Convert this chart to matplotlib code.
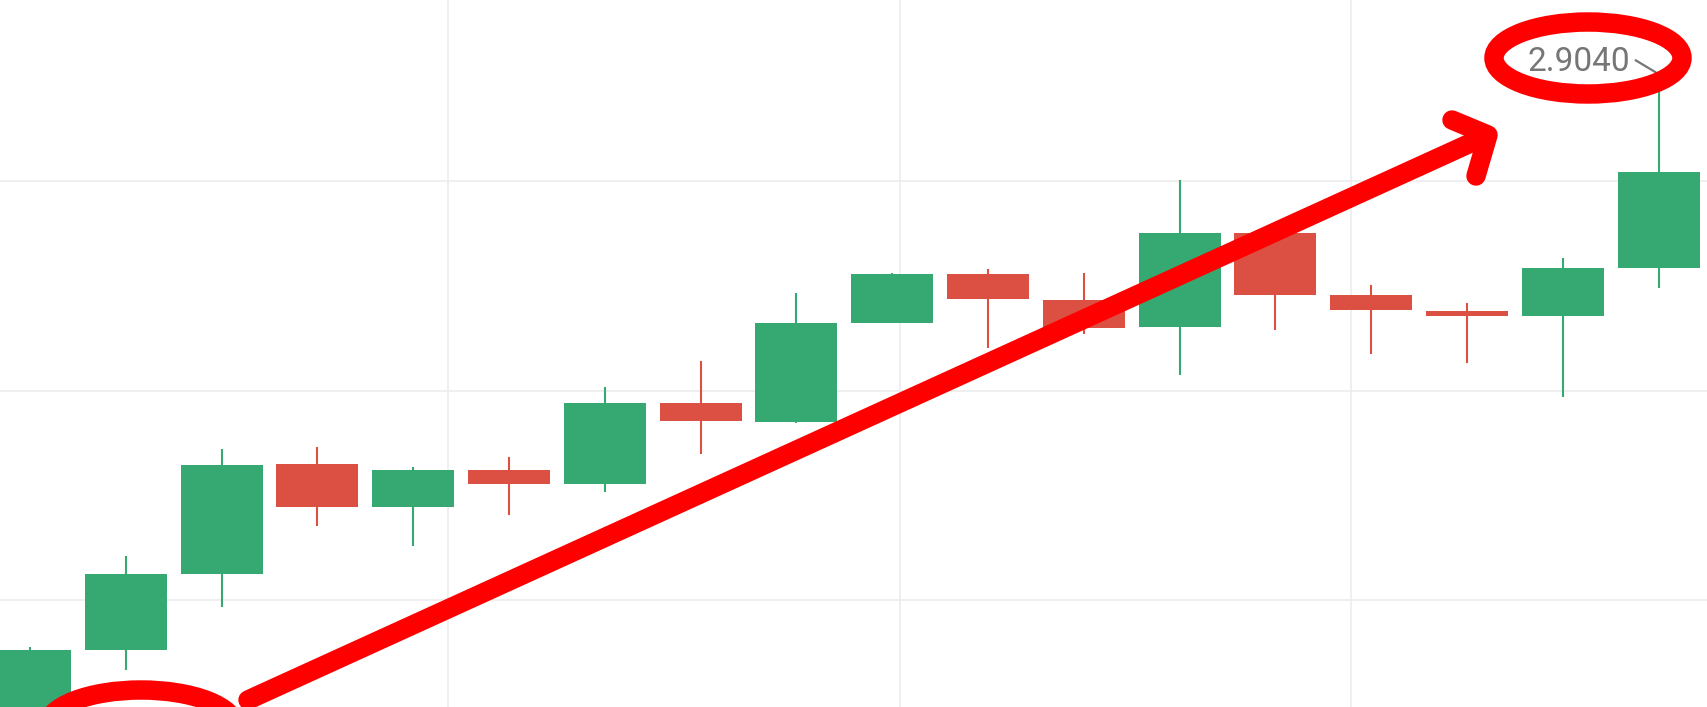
import matplotlib
matplotlib.use("Agg")
import matplotlib.pyplot as plt
from matplotlib.patches import Ellipse
from matplotlib.lines import Line2D
from matplotlib.transforms import offset_copy

# ---- data (OHLC) ----
opens  = [2.87865, 2.88209, 2.88498, 2.88918, 2.88756, 2.88896, 2.88842, 2.89153, 2.89080,
          2.89458, 2.89646, 2.89546, 2.89441, 2.89801, 2.89565, 2.89504, 2.89486, 2.89669]
highs  = [2.88221, 2.88568, 2.88977, 2.88985, 2.88907, 2.88947, 2.89212, 2.89314, 2.89572,
          2.89650, 2.89663, 2.89648, 2.90004, 2.89801, 2.89603, 2.89533, 2.89705, 2.90400]
lows   = [2.87751, 2.88133, 2.88374, 2.88684, 2.88606, 2.88725, 2.88811, 2.88958, 2.89075,
          2.89456, 2.89361, 2.89416, 2.89259, 2.89431, 2.89338, 2.89306, 2.89174, 2.89590]
closes = [2.88209, 2.88498, 2.88917, 2.88756, 2.88896, 2.88844, 2.89151, 2.89082, 2.89456,
          2.89646, 2.89548, 2.89440, 2.89800, 2.89565, 2.89507, 2.89486, 2.89667, 2.90036]
max_label = "2.9040"
grid_prices = [2.884, 2.892, 2.900]

W, H = 1708, 707
GREEN = "#36a973"
RED = "#dc5044"
GRID = "#ececec"

fig = plt.figure(figsize=(W / 100, H / 100), dpi=100)
ax = fig.add_axes([0, 0, 1, 1])
for s in ax.spines.values():
    s.set_visible(False)

step_px = 95.8          # pixels per candle
px_per_unit = 209.5 / 0.008
ax.set_xlim(-30 / step_px, (W - 30) / step_px)
ax.set_ylim(2.900 - (H - 181) / px_per_unit, 2.900 + 181 / px_per_unit)

# grid
ax.set_yticks(grid_prices)
ax.set_xticks([4.363, 9.08, 13.79])
ax.tick_params(left=False, bottom=False, labelleft=False, labelbottom=False)
ax.grid(True, color=GRID, linewidth=1.2)
ax.set_axisbelow(True)

# candles
n = len(opens)
for i in range(n):
    o, h, l, c = opens[i], highs[i], lows[i], closes[i]
    col = GREEN if c >= o else RED
    ax.vlines(i, l, h, color=col, linewidth=1.5, zorder=2)
    ax.bar(i, abs(c - o), bottom=min(o, c), width=0.856, color=col,
           linewidth=0, zorder=3)

# max label
imax = highs.index(max(highs))
ax.annotate(max_label, xy=(imax, highs[imax]), xycoords="data",
            xytext=(-28, 14), textcoords="offset pixels",
            ha="right", va="center", fontsize=24, color="#767676",
            family=["Roboto", "DejaVu Sans"], zorder=5)
ax.annotate("", xy=(imax, highs[imax]),
            xycoords=offset_copy(ax.transData, fig=fig, x=-3, y=4, units="dots"),
            xytext=(-20, 12), textcoords="offset pixels",
            arrowprops=dict(arrowstyle="-", color="#767676", lw=1.6,
                            shrinkA=0, shrinkB=0), zorder=5)

# red hand-drawn style annotations (pixel coords, origin top-left)
def P(x, y):
    return x / W, 1 - y / H

lw_red = 14
for cx, cy, w, h in [(1588, 58, 188, 72), (141, 727, 189, 74)]:
    e = Ellipse(P(cx, cy), w / W, h / H, transform=ax.transAxes,
                fill=False, edgecolor="#ff0000", linewidth=lw_red, zorder=6,
                clip_on=False)
    ax.add_patch(e)

xs, ys = zip(*[P(248, 700), P(1486, 136)])
ax.add_line(Line2D(xs, ys, transform=ax.transAxes, color="#ff0000", lw=lw_red,
                   solid_capstyle="round", zorder=6))
xs, ys = zip(*[P(1452, 120), P(1488, 135), P(1476, 176)])
ax.add_line(Line2D(xs, ys, transform=ax.transAxes, color="#ff0000", lw=lw_red,
                   solid_capstyle="round", solid_joinstyle="round", zorder=6))

fig.savefig("out.png", dpi=100)
